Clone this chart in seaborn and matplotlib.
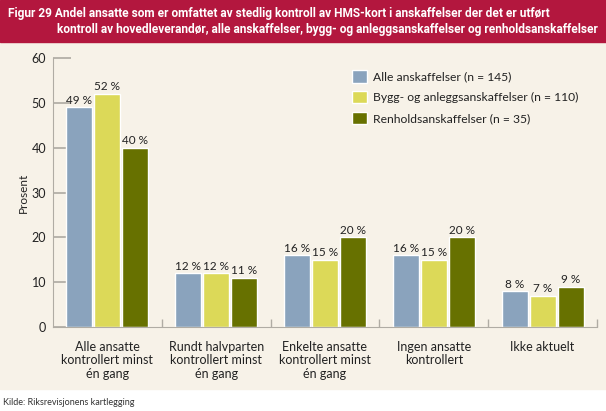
import matplotlib.pyplot as plt
import matplotlib.patches as mpatches
import pandas as pd
import seaborn as sns

categories = ["Alle ansatte\nkontrollert minst\nén gang",
              "Rundt halvparten\nkontrollert minst\nén gang",
              "Enkelte ansatte\nkontrollert minst\nén gang",
              "Ingen ansatte\nkontrollert",
              "Ikke aktuelt"]
series = ["Alle anskaffelser (n = 145)",
          "Bygg- og anleggsanskaffelser (n = 110)",
          "Renholdsanskaffelser (n = 35)"]
alle = [49, 12, 16, 16, 8]
bygg = [52, 12, 15, 15, 7]
renhold = [40, 11, 20, 20, 9]
colors = ["#8aa3bd", "#dcd958", "#677100"]

title1 = "Figur 29 Andel ansatte som er omfattet av stedlig kontroll av HMS-kort i anskaffelser der det er utført"
title2 = "kontroll av hovedleverandør, alle anskaffelser, bygg- og anleggsanskaffelser og renholdsanskaffelser"

rows = []
for s, vals in zip(series, [alle, bygg, renhold]):
    for c, v in zip(categories, vals):
        rows.append({"kategori": c, "serie": s, "verdi": v})
df = pd.DataFrame(rows)

sns.set_theme(style="white")
plt.rcParams['font.family'] = ['Lato', 'DejaVu Sans']

fig = plt.figure(figsize=(6.06, 4.11), dpi=100)
fig.patch.set_facecolor("white")
# cream panel and red title band
fig.patches.append(mpatches.Rectangle((0, 1 - 389 / 411), 1, (389 - 42) / 411,
                                      transform=fig.transFigure, color="#f7f2e8", zorder=-5))
fig.patches.append(mpatches.Rectangle((0, 1 - 42 / 411), 1, 42 / 411,
                                      transform=fig.transFigure, color="#b3173e", zorder=-5))

ax = fig.add_axes([53 / 606, 1 - 327 / 411, (597 - 53) / 606, (327 - 58) / 411])
ax.set_facecolor("none")
sns.barplot(data=df, x="kategori", y="verdi", hue="serie", palette=colors,
            width=0.77, gap=0.07, saturation=1, ax=ax)

for cont, vals in zip(ax.containers, [alle, bygg, renhold]):
    ax.bar_label(cont, labels=[f"{v} %" for v in vals], fontsize=8.5, padding=1, color="#222222")

ax.set_ylim(0, 60)
ax.set_xlim(-0.5, 4.5)
ax.set_yticks(range(0, 61, 10))
ax.set_xlabel("")
ax.set_ylabel("Prosent", fontsize=8.5, color="#222222", labelpad=2)
ax.tick_params(axis="y", direction="in", length=13, color="#b0aca4", labelsize=9,
               labelcolor="#222222", left=True, pad=5)
ax.tick_params(axis="x", length=0, labelsize=9, labelcolor="#222222", pad=10)
for lab in ax.get_xticklabels():
    lab.set_linespacing(1.15)
ax.set_xticks([0.5, 1.5, 2.5, 3.5, 4.5], minor=True)
ax.tick_params(axis="x", which="minor", direction="in", length=6, color="#b0aca4", bottom=True)
for sp in ["top", "right"]:
    ax.spines[sp].set_visible(False)
for sp in ["left", "bottom"]:
    ax.spines[sp].set_color("#b0aca4")
    ax.spines[sp].set_linewidth(0.8)

leg = ax.legend(loc="upper left", bbox_to_anchor=(0.53, 0.995), frameon=False, fontsize=8.7,
                handlelength=1.2, handleheight=1.2, labelspacing=0.7, handletextpad=0.5)
for t in leg.get_texts():
    t.set_color("#222222")

t1 = fig.text(8 / 606, 1 - 14 / 411, title1, color="white", fontsize=9, fontweight="bold",
              family=["Roboto", "DejaVu Sans"], va="center", ha="left")
t2 = fig.text(57 / 606, 1 - 29 / 411, title2, color="white", fontsize=9, fontweight="bold",
              family=["Roboto", "DejaVu Sans"], va="center", ha="left")
# shrink title so the second line ends near the right edge
renderer = fig.canvas.get_renderer()
w = t2.get_window_extent(renderer).width
size = 9 * 543 / w
t1.set_fontsize(size)
t2.set_fontsize(size)

fig.text(3 / 606, 1 - 402 / 411, "Kilde: Riksrevisjonens kartlegging", fontsize=6.5,
         color="#333333", va="center", ha="left")

fig.savefig("out.png", dpi=100)
